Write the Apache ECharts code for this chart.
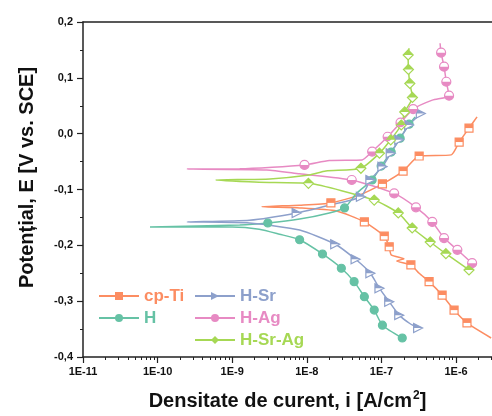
<!DOCTYPE html>
<html><head><meta charset="utf-8">
<script src="https://cdn.jsdelivr.net/npm/echarts@6/dist/echarts.min.js"></script>
<style>html,body{margin:0;padding:0;background:#fff}#c{width:492px;height:416px}</style>
</head><body><div id="c"></div>
<script>
// ---------- data ----------
const seriesNames = ['cp-Ti', 'H', 'H-Sr', 'H-Ag', 'H-Sr-Ag'];
const xTickLabels = ['1E-11', '1E-10', '1E-9', '1E-8', '1E-7', '1E-6'];
const yTickLabels = ['-0,4', '-0,3', '-0,2', '-0,1', '0,0', '0,1', '0,2'];

// [current density A/cm2, potential V]
const cpTi = [[2.95e-6,-0.366],[1.4e-6,-0.339],[9.4e-7,-0.316],[6.5e-7,-0.289],[4.35e-7,-0.265],[3.2e-7,-0.250],[2.48e-7,-0.235],[1.6e-7,-0.228],[2.0e-7,-0.224],[1.35e-7,-0.217],[1.27e-7,-0.2025],[1.09e-7,-0.1835],[5.9e-8,-0.158],[2.5e-8,-0.1385],[8.0e-9,-0.133],[2.5e-9,-0.131],[8.0e-9,-0.128],[2.1e-8,-0.124],[5.05e-8,-0.110],[1.03e-7,-0.090],[1.95e-7,-0.067],[3.2e-7,-0.040],[8.6e-7,-0.038],[1.1e-6,-0.015],[1.49e-6,0.010],[1.91e-6,0.030]];
const cpTiMarks = [[1.4e-6,-0.339],[9.4e-7,-0.316],[6.5e-7,-0.289],[4.35e-7,-0.265],[2.48e-7,-0.235],[1.27e-7,-0.2025],[1.09e-7,-0.1835],[5.9e-8,-0.158],[2.1e-8,-0.124],[1.03e-7,-0.090],[1.95e-7,-0.067],[3.2e-7,-0.040],[1.1e-6,-0.015],[1.49e-6,0.010]];

const hCurve = [[1.9e-7,-0.366],[1.03e-7,-0.343],[8.0e-8,-0.316],[5.9e-8,-0.292],[4.3e-8,-0.265],[2.9e-8,-0.241],[1.62e-8,-0.2155],[8.0e-9,-0.190],[4.3e-9,-0.180],[2.3e-9,-0.171],[1.0e-9,-0.167],[7.9e-11,-0.167],[1.26e-9,-0.1636],[3.0e-9,-0.160],[8.0e-9,-0.153],[2.0e-8,-0.142],[3.2e-8,-0.133],[4.7e-8,-0.106],[7.5e-8,-0.083],[9.9e-8,-0.058],[1.35e-7,-0.033],[1.78e-7,-0.008],[2.35e-7,0.017],[2.83e-7,0.030]];
const hMarks = [[1.9e-7,-0.366],[1.03e-7,-0.343],[8.0e-8,-0.316],[5.9e-8,-0.292],[4.3e-8,-0.265],[2.9e-8,-0.241],[1.62e-8,-0.2155],[8.0e-9,-0.190],[3.0e-9,-0.160],[3.2e-8,-0.133],[7.5e-8,-0.083],[9.9e-8,-0.058],[1.35e-7,-0.033],[1.78e-7,-0.008],[2.35e-7,0.017]];

const hSrCurve = [[3.1e-7,-0.348],[2.4e-7,-0.340],[1.73e-7,-0.325],[1.27e-7,-0.301],[9.4e-8,-0.277],[7.1e-8,-0.250],[4.5e-8,-0.225],[2.4e-8,-0.198],[8.0e-9,-0.1726],[1.7e-9,-0.160],[2.5e-10,-0.158],[1.7e-9,-0.155],[7.3e-9,-0.142],[2.0e-8,-0.128],[5.3e-8,-0.113],[7.1e-8,-0.083],[1.03e-7,-0.059],[1.33e-7,-0.035],[1.73e-7,-0.011],[2.35e-7,0.0155],[3.37e-7,0.036]];
const hSrMarks = [[3.1e-7,-0.348],[1.73e-7,-0.325],[1.27e-7,-0.301],[9.4e-8,-0.277],[7.1e-8,-0.250],[4.5e-8,-0.225],[2.4e-8,-0.198],[7.3e-9,-0.142],[5.3e-8,-0.113],[7.1e-8,-0.083],[1.03e-7,-0.059],[1.33e-7,-0.035],[1.73e-7,-0.011],[2.35e-7,0.0155],[3.37e-7,0.036]];

const hAgCurve = [[1.64e-6,-0.232],[1.04e-6,-0.208],[6.9e-7,-0.187],[4.8e-7,-0.158],[2.9e-7,-0.132],[1.48e-7,-0.107],[4.0e-8,-0.083],[8.0e-9,-0.072],[2.9e-9,-0.065],[2.5e-10,-0.0633],[1.26e-9,-0.063],[9.3e-9,-0.056],[2.0e-8,-0.048],[5.5e-8,-0.047],[7.5e-8,-0.032],[1.21e-7,-0.0055],[1.8e-7,0.0196],[2.66e-7,0.044],[4.8e-7,0.060],[8.05e-7,0.068],[7.4e-7,0.093],[6.9e-7,0.120],[6.3e-7,0.145],[6.1e-7,0.162]];
const hAgMarks = [[1.64e-6,-0.232],[1.04e-6,-0.208],[6.9e-7,-0.187],[4.8e-7,-0.158],[2.9e-7,-0.132],[1.48e-7,-0.107],[4.0e-8,-0.083],[9.3e-9,-0.056],[7.5e-8,-0.032],[1.21e-7,-0.0055],[1.8e-7,0.0196],[2.66e-7,0.044],[8.05e-7,0.068],[7.4e-7,0.093],[6.9e-7,0.120],[6.3e-7,0.145]];

const hSrAgCurve = [[1.49e-6,-0.244],[7.3e-7,-0.215],[4.5e-7,-0.194],[2.58e-7,-0.169],[1.68e-7,-0.142],[8.0e-8,-0.119],[1.05e-8,-0.089],[2.3e-9,-0.087],[6.0e-10,-0.083],[3.2e-9,-0.081],[1.08e-8,-0.074],[1.8e-8,-0.067],[5.3e-8,-0.062],[9.4e-8,-0.035],[1.33e-7,-0.011],[1.84e-7,0.0155],[2.05e-7,0.039],[2.6e-7,0.065],[2.4e-7,0.090],[2.3e-7,0.115],[2.28e-7,0.141],[2.35e-7,0.153]];
const hSrAgMarks = [[1.49e-6,-0.244],[7.3e-7,-0.215],[4.5e-7,-0.194],[2.58e-7,-0.169],[1.68e-7,-0.142],[8.0e-8,-0.119],[1.05e-8,-0.089],[5.3e-8,-0.062],[9.4e-8,-0.035],[1.33e-7,-0.011],[1.84e-7,0.0155],[2.05e-7,0.039],[2.6e-7,0.065],[2.4e-7,0.090],[2.3e-7,0.115],[2.28e-7,0.141]];

// ---------- styling ----------
const colors = ['#FC8D62', '#66C2A5', '#8DA0CB', '#E78AC3', '#A6D854'];
const curves = [cpTi, hCurve, hSrCurve, hAgCurve, hSrAgCurve];
const marks = [cpTiMarks, hMarks, hSrMarks, hAgMarks, hSrAgMarks];
const FONT = 'Liberation Sans, Arial, sans-serif';
const X_MIN = 1e-11, X_MAX = 3.03e-6, Y_MIN = -0.4, Y_MAX = 0.2;

const baseSym = [
  {symbol: 'rect', size: 8, rotate: 0, fill: false},
  {symbol: 'circle', size: 8, rotate: 0, fill: true},
  {symbol: 'triangle', size: 9, rotate: -90, fill: false},
  {symbol: 'circle', size: 9, rotate: 0, fill: false},
  {symbol: 'diamond', size: 10, rotate: 0, fill: false}
];
const halfSym = [
  {symbol: 'path://M0,0 L10,0 L10,5 L0,5 Z', size: [8, 4], offset: [0, -2]},
  null,
  {symbol: 'path://M0,0 L10,5 L0,5 Z', size: [9, 4.5], offset: [0, -2.25]},
  {symbol: 'path://M0,0 C0,2.76 2.24,5 5,5 C7.76,5 10,2.76 10,0 Z', size: [9, 4.5], offset: [0, 2.25]},
  {symbol: 'path://M0,5 L5,0 L10,5 Z', size: [10, 5], offset: [0, -2.5]}
];

// logarithmic minor ticks of the x axis (2..9 x 10^n)
const minorTickValues = [];
for (let e = -11; e <= -6; e++) {
  for (let m = 2; m <= 9; m++) {
    const v = m * Math.pow(10, e);
    if (v < X_MAX) minorTickValues.push(v);
  }
}

const series = [];
seriesNames.forEach((name, k) => {
  series.push({
    name: name, type: 'line', xAxisIndex: 0, yAxisIndex: 0,
    data: curves[k], showSymbol: false,
    symbol: baseSym[k].symbol, symbolRotate: baseSym[k].rotate, symbolSize: 8,
    smooth: 0.2, z: 2, silent: true,
    lineStyle: {color: colors[k], width: 1.5},
    itemStyle: {color: colors[k]}
  });
});
seriesNames.forEach((name, k) => {
  series.push({
    type: 'scatter', xAxisIndex: 0, yAxisIndex: 0, data: marks[k], z: 3, silent: true,
    symbol: baseSym[k].symbol, symbolSize: baseSym[k].size, symbolRotate: baseSym[k].rotate,
    itemStyle: {color: baseSym[k].fill ? colors[k] : '#fff', borderColor: colors[k], borderWidth: 1.2, opacity: 1}
  });
  if (halfSym[k]) {
    series.push({
      type: 'scatter', xAxisIndex: 0, yAxisIndex: 0, data: marks[k], z: 4, silent: true,
      symbol: halfSym[k].symbol, symbolSize: halfSym[k].size, symbolOffset: halfSym[k].offset,
      itemStyle: {color: colors[k], opacity: 1}
    });
  }
});

const axisLineStyle = {color: '#222', width: 1.5};
const chart = echarts.init(document.getElementById('c'), null, {renderer: 'canvas'});
chart.setOption({
  animation: false,
  backgroundColor: '#fff',
  grid: {left: 83, right: 0, top: 22, bottom: 58, containLabel: false},
  legend: [
    {orient: 'vertical', left: 93, top: 281, itemWidth: 40, itemHeight: 10, itemGap: 2,
     selectedMode: false,
     textStyle: {fontFamily: FONT, fontSize: 17, fontWeight: 'bold', lineHeight: 20, padding: [0, 0, 0, 0]},
     data: [0, 1].map(k => ({name: seriesNames[k], textStyle: {color: colors[k]}}))},
    {orient: 'vertical', left: 189, top: 281, itemWidth: 40, itemHeight: 10, itemGap: 2,
     selectedMode: false,
     textStyle: {fontFamily: FONT, fontSize: 17, fontWeight: 'bold', lineHeight: 20},
     data: [2, 3, 4].map(k => ({name: seriesNames[k], textStyle: {color: colors[k]}}))}
  ],
  xAxis: [
    {
      type: 'log', logBase: 10, min: X_MIN, max: X_MAX, position: 'bottom',
      axisLine: {show: true, onZero: false, lineStyle: axisLineStyle},
      axisTick: {show: true, inside: false, length: 6, lineStyle: {color: '#222', width: 1.2}},
      minorTick: {show: false},
      splitLine: {show: false},
      axisLabel: {
        margin: 9, fontFamily: FONT, fontSize: 11, fontWeight: 'bold', color: '#111',
        showMaxLabel: false,
        formatter: v => {
          const e = Math.log10(v);
          const r = Math.round(e);
          if (Math.abs(e - r) > 1e-6) return '';
          return xTickLabels[r + 11] || '';
        }
      },
      name: 'Densitate de curent, i [A/cm{sup|2}]',
      nameLocation: 'middle', nameGap: 33,
      nameTextStyle: {
        fontFamily: FONT, fontSize: 20, fontWeight: 'bold', color: '#111',
        rich: {sup: {fontFamily: FONT, fontSize: 12, fontWeight: 'bold', color: '#111', verticalAlign: 'top', padding: [0, 0, 10, 1]}}
      }
    },
    {
      type: 'log', logBase: 10, min: X_MIN, max: X_MAX, position: 'top',
      axisLine: {show: true, onZero: false, lineStyle: axisLineStyle},
      axisTick: {show: false}, axisLabel: {show: false}, splitLine: {show: false}
    },
    {
      // minor ticks: pinned to the zero of the helper y axis, which is the bottom edge
      type: 'log', logBase: 10, min: X_MIN, max: X_MAX, position: 'top',
      axisLine: {show: false, onZero: true, onZeroAxisIndex: 1},
      axisTick: {show: true, inside: true, length: 3, customValues: minorTickValues, lineStyle: {color: '#222', width: 1}},
      axisLabel: {show: false}, splitLine: {show: false}
    }
  ],
  yAxis: [{
    type: 'value', min: Y_MIN, max: Y_MAX, interval: 0.1,
    axisLine: {show: true, onZero: false, lineStyle: axisLineStyle},
    axisTick: {show: true, inside: false, length: 6, lineStyle: {color: '#222', width: 1.2}},
    minorTick: {show: true, splitNumber: 2, length: 3, lineStyle: {color: '#222', width: 1}},
    splitLine: {show: false}, minorSplitLine: {show: false},
    axisLabel: {
      margin: 10, fontFamily: FONT, fontSize: 11, fontWeight: 'bold', color: '#111',
      formatter: v => yTickLabels[Math.round((v + 0.4) * 10)]
    },
    name: 'Potențial, E [V vs. SCE]',
    nameLocation: 'middle', nameGap: 46,
    nameTextStyle: {fontFamily: FONT, fontSize: 20, fontWeight: 'bold', color: '#111', padding: [0, 0, 0, 24]}
  }, {
    type: 'value', min: 0, max: 0.6, position: 'right',
    axisLine: {show: false, onZero: false}, axisTick: {show: false}, axisLabel: {show: false},
    splitLine: {show: false}
  }],
  series: series
});
</script>
</body></html>
